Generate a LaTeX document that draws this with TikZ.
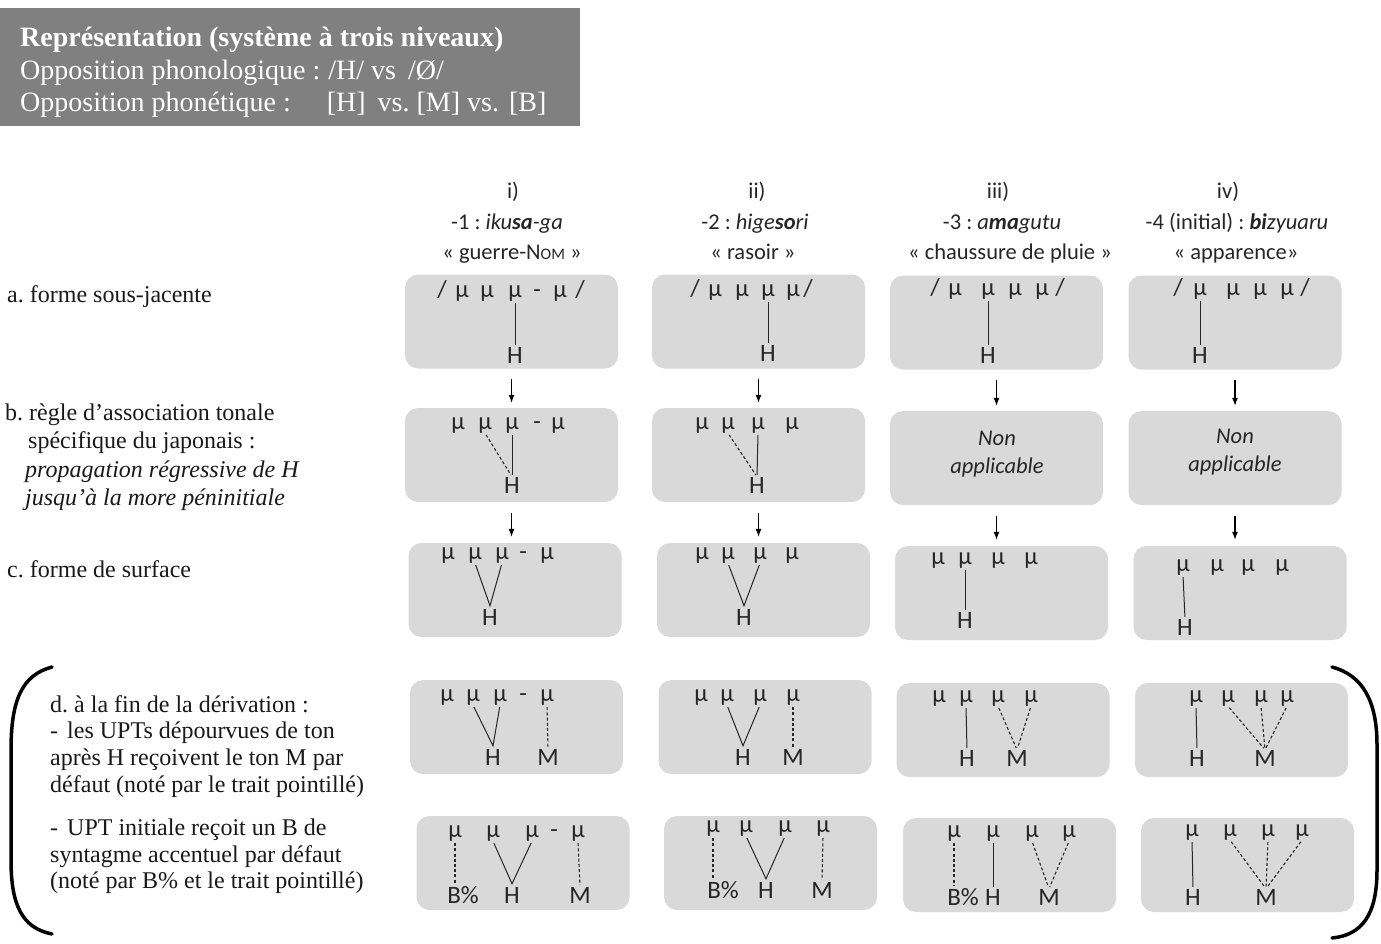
\documentclass[tikz,border=0pt]{standalone}
\usepackage{fontspec}
\setmainfont{Liberation Serif}
\newfontfamily\calfont{Carlito}
\usetikzlibrary{arrows.meta}
\definecolor{boxgray}{HTML}{D9D9D9}
\definecolor{headgray}{HTML}{808080}
\definecolor{ink}{HTML}{262626}
\frenchspacing
\tikzset{
  box/.style={rounded corners=13pt, fill=boxgray, minimum width=213pt, minimum height=94pt, inner sep=0pt},
  mu/.style={font=\calfont\fontsize{24.5}{24}\selectfont, inner sep=0pt, anchor=base, text=ink},
  tone/.style={font=\calfont\fontsize{25}{25}\selectfont, inner sep=0pt, anchor=base, text=ink},
  ln/.style={draw=ink, line width=1pt, shorten <=2pt, shorten >=2pt},
  dsh/.style={draw=ink, line width=1.1pt, dash pattern=on 3pt off 2.2pt, shorten <=2pt, shorten >=2pt},
  arr/.style={draw=black, line width=1.1pt, -{Latex[length=8pt,width=6pt]}},
  hdrtxt/.style={font=\fontsize{28}{32}\selectfont, text=white, inner sep=0pt, anchor=base west},
  lbl/.style={font=\fontsize{24}{27}\selectfont, inner sep=0pt, anchor=base west, text=black!90},
  colh/.style={font=\calfont\fontsize{22.5}{27}\selectfont, inner sep=0pt, anchor=base, text=ink},
  na/.style={font=\calfont\itshape\fontsize{22.5}{28}\selectfont, align=center, inner sep=0pt, text=ink},
}
\begin{document}
\begin{tikzpicture}[x=1pt,y=-1pt]
\useasboundingbox (0,0) rectangle (1381,943);

% header
\node[fill=headgray, minimum width=580pt, minimum height=118pt, anchor=north west, inner sep=0pt] (hdr) at (0,8) {};
\node[hdrtxt] (h1) at (20,46) {\textbf{Représentation (système à trois niveaux)}};
\node[hdrtxt] (h2) at (20,79) {Opposition phonologique :\hspace{8pt}/H/ vs\hspace{12pt}/Ø/};
\node[hdrtxt] (h3) at (20,111) {Opposition phonétique :\hspace{36pt}[H]\hspace{12pt}vs. [M] vs.\hspace{10pt}[B]};

% column headers
\node[colh] (c1a) at (513,198) {i)};
\node[colh] (c1b) at (507,229) {-1 : \textit{iku\textbf{sa}-ga}};
\node[colh] (c1c) at (512,259) {« guerre-N{\fontsize{16}{16}\selectfont OM} »};
\node[colh] (c2a) at (757,198) {ii)};
\node[colh] (c2b) at (755,229) {-2 : \textit{hige\textbf{so}ri}};
\node[colh] (c2c) at (753,259) {« rasoir »};
\node[colh] (c3a) at (998,198) {iii)};
\node[colh] (c3b) at (1002,229) {-3 : \textit{a\textbf{ma}gutu}};
\node[colh] (c3c) at (1010,259) {« chaussure de pluie »};
\node[colh] (c4a) at (1228,198) {iv)};
\node[colh] (c4b) at (1237,229) {-4 (initial) : \textit{\textbf{bi}zyuaru}};
\node[colh] (c4c) at (1236,259) {« apparence»};

% left labels
\node[lbl] (la) at (7,302) {a. forme sous-jacente};
\node[lbl] (lb1) at (5,420) {b. règle d’association tonale};
\node[lbl] (lb2) at (28,448) {spécifique du japonais :};
\node[lbl] (lb3) at (25,477) {\textit{propagation régressive de H}};
\node[lbl] (lb4) at (25,505) {\textit{jusqu’à la more péninitiale}};
\node[lbl] (lc) at (7,577) {c. forme de surface};
\node[lbl] (ld1) at (50,712) {d. à la fin de la dérivation :};
\node[lbl] (ld2) at (50,738) {-\hspace{9pt}les UPTs dépourvues de ton};
\node[lbl] (ld3) at (50,765) {après H reçoivent le ton M par};
\node[lbl] (ld4) at (50,792) {défaut (noté par le trait pointillé)};
\node[lbl] (ld5) at (50,835) {-\hspace{9pt}UPT initiale reçoit un B de};
\node[lbl] (ld6) at (50,862) {syntagme accentuel par défaut};
\node[lbl] (ld7) at (50,888) {(noté par B\% et le trait pointillé)};

% brackets
\draw[line width=3.5pt, line cap=round] (52,667) .. controls (22,675) and (11,700) .. (11,750) -- (11,860) .. controls (11,905) and (22,928) .. (52,934);
\draw[line width=3.5pt, line cap=round] (1332,667) .. controls (1362,675) and (1377,700) .. (1377,745) -- (1377,870) .. controls (1377,915) and (1362,935) .. (1332,938);

% boxes
\node[box] (A1) at (511.5,321.5) {};
\node[box] (A2) at (758.5,321.5) {};
\node[box] (A3) at (996.5,322.5) {};
\node[box] (A4) at (1235,322.5) {};
\node[box] (B1) at (511.5,455) {};
\node[box] (B2) at (758.5,455) {};
\node[box] (B3) at (996.5,458) {};
\node[box] (B4) at (1235,458) {};
\node[box] (C1) at (515,590) {};
\node[box] (C2) at (763.5,590) {};
\node[box] (C3) at (1001.5,593) {};
\node[box] (C4) at (1240,593) {};
\node[box] (D1) at (516.5,727) {};
\node[box] (D2) at (765,727) {};
\node[box] (D3) at (1003,730) {};
\node[box] (D4) at (1241.5,730) {};
\node[box] (E1) at (523,863) {};
\node[box] (E2) at (770.5,863) {};
\node[box] (E3) at (1009.5,865) {};
\node[box] (E4) at (1247.5,865) {};

% arrows
\foreach \c in {1,2,3,4}{
  \draw[arr, shorten <=10pt, shorten >=5pt] (A\c.south) -- (A\c.south |- B\c.north);
  \draw[arr, shorten <=11pt, shorten >=6pt] (B\c.south) -- (B\c.south |- C\c.north);
}

% ---------- row a ----------
\node[mu] (a1sl) at (442,297) {/};
\node[mu] (a1sr) at (580,297) {/};
\node[mu] (a1hy) at (537,297) {-};
\foreach \x [count=\i] in {462,487,515,560} \node[mu] (a1m\i) at (\x,297) {μ};
\node[tone] (a1H) at (515,363) {H};
\draw[ln] (a1m3.south) -- (a1H.north);

\node[mu] (a2sl) at (695,296) {/};
\node[mu] (a2sr) at (808,296) {/};
\foreach \x [count=\i] in {715,742,768,793} \node[mu] (a2m\i) at (\x,296) {μ};
\node[tone] (a2H) at (768,361) {H};
\draw[ln] (a2m3.south) -- (a2H.north);

\node[mu] (a3sl) at (935,295) {/};
\node[mu] (a3sr) at (1060,295) {/};
\foreach \x [count=\i] in {955,988,1015,1042} \node[mu] (a3m\i) at (\x,295) {μ};
\node[tone] (a3H) at (988,363) {H};
\draw[ln] (a3m2.south) -- (a3H.north);

\node[mu] (a4sl) at (1178,295) {/};
\node[mu] (a4sr) at (1305,295) {/};
\foreach \x [count=\i] in {1200,1233,1260,1287} \node[mu] (a4m\i) at (\x,295) {μ};
\node[tone] (a4H) at (1200,363) {H};
\draw[ln] (a4m1.south) -- (a4H.north);

% ---------- row b ----------
\foreach \x [count=\i] in {458,485,512,558} \node[mu] (b1m\i) at (\x,429) {μ};
\node[mu] (b1hy) at (537,429) {-};
\node[tone] (b1H) at (512,493) {H};
\draw[ln] (b1m3.south) -- (b1H.north);
\draw[dsh] (b1m2.south) -- (b1H.north);

\foreach \x [count=\i] in {702,728,758,792} \node[mu] (b2m\i) at (\x,429) {μ};
\node[tone] (b2H) at (757,493) {H};
\draw[ln] (b2m3.south) -- (b2H.north);
\draw[dsh] (b2m2.south) -- (b2H.north);

\node[na] (b3t) at (997,454) {Non\\applicable};
\node[na] (b4t) at (1235,452) {Non\\applicable};

% ---------- row c ----------
\foreach \x [count=\i] in {448,475,502,547} \node[mu] (c1m\i) at (\x,559) {μ};
\node[mu] (c1hy) at (523,559) {-};
\node[tone] (c1H) at (490,625) {H};
\draw[ln] (c1m2.south) -- ([yshift=3pt]c1H.north) -- (c1m3.south);

\foreach \x [count=\i] in {702,728,760,792} \node[mu] (c2m\i) at (\x,559) {μ};
\node[tone] (c2H) at (744,625) {H};
\draw[ln] (c2m2.south) -- ([yshift=3pt]c2H.north) -- (c2m3.south);

\foreach \x [count=\i] in {938,965,998,1031} \node[mu] (c3m\i) at (\x,564) {μ};
\node[tone] (c3H) at (965,628) {H};
\draw[ln] (c3m2.south) -- (c3H.north);

\foreach \x [count=\i] in {1183,1217,1248,1282} \node[mu] (c4m\i) at (\x,571) {μ};
\node[tone] (c4H) at (1185,635) {H};
\draw[ln] (c4m1.south) -- (c4H.north);

% ---------- row d1 ----------
\foreach \x [count=\i] in {447,473,500,547} \node[mu] (d1m\i) at (\x,701) {μ};
\node[mu] (d1hy) at (523,701) {-};
\node[tone] (d1H) at (493,765) {H};
\node[tone] (d1M) at (548,765) {M};
\draw[ln] (d1m2.south) -- ([yshift=3pt]d1H.north) -- (d1m3.south);
\draw[dsh] (d1m4.south) -- (d1M.north);

\foreach \x [count=\i] in {701,727,760,793} \node[mu] (d2m\i) at (\x,701) {μ};
\node[tone] (d2H) at (743,765) {H};
\node[tone] (d2M) at (793,765) {M};
\draw[ln] (d2m2.south) -- ([yshift=3pt]d2H.north) -- (d2m3.south);
\draw[dsh] (d2m4.south) -- (d2M.north);

\foreach \x [count=\i] in {939,966,998,1031} \node[mu] (d3m\i) at (\x,702) {μ};
\node[tone] (d3H) at (967,766) {H};
\node[tone] (d3M) at (1017,766) {M};
\draw[ln] (d3m2.south) -- (d3H.north);
\draw[dsh] (d3m3.south) -- (d3M.north);
\draw[dsh] (d3m4.south) -- (d3M.north);

\foreach \x [count=\i] in {1196,1228,1261,1287} \node[mu] (d4m\i) at (\x,702) {μ};
\node[tone] (d4H) at (1197,766) {H};
\node[tone] (d4M) at (1265,766) {M};
\draw[ln] (d4m1.south) -- (d4H.north);
\draw[dsh] (d4m2.south) -- (d4M.north);
\draw[dsh] (d4m3.south) -- (d4M.north);
\draw[dsh] (d4m4.south) -- (d4M.north);

% ---------- row d2 ----------
\foreach \x [count=\i] in {455,493,532,578} \node[mu] (e1m\i) at (\x,837) {μ};
\node[mu] (e1hy) at (554,837) {-};
\node[tone] (e1B) at (463,903) {B\%};
\node[tone] (e1H) at (512,903) {H};
\node[tone] (e1M) at (580,903) {M};
\draw[dsh] (e1m1.south) -- (e1m1.south |- e1B.north);
\draw[ln] (e1m2.south) -- ([yshift=3pt]e1H.north) -- (e1m3.south);
\draw[dsh] (e1m4.south) -- (e1M.north);

\foreach \x [count=\i] in {713,746,785,823} \node[mu] (e2m\i) at (\x,832) {μ};
\node[tone] (e2B) at (723,898) {B\%};
\node[tone] (e2H) at (766,898) {H};
\node[tone] (e2M) at (822,898) {M};
\draw[dsh] (e2m1.south) -- (e2m1.south |- e2B.north);
\draw[ln] (e2m2.south) -- ([yshift=3pt]e2H.north) -- (e2m3.south);
\draw[dsh] (e2m4.south) -- (e2M.north);

\foreach \x [count=\i] in {954,993,1032,1069} \node[mu] (e3m\i) at (\x,837) {μ};
\node[tone] (e3B) at (963,905) {B\%};
\node[tone] (e3H) at (993,905) {H};
\node[tone] (e3M) at (1049,905) {M};
\draw[dsh] (e3m1.south) -- (e3m1.south |- e3B.north);
\draw[ln] (e3m2.south) -- (e3H.north);
\draw[dsh] (e3m3.south) -- (e3M.north);
\draw[dsh] (e3m4.south) -- (e3M.north);

\foreach \x [count=\i] in {1192,1230,1268,1302} \node[mu] (e4m\i) at (\x,836) {μ};
\node[tone] (e4H) at (1193,905) {H};
\node[tone] (e4M) at (1266,905) {M};
\draw[ln] (e4m1.south) -- (e4H.north);
\draw[dsh] (e4m2.south) -- (e4M.north);
\draw[dsh] (e4m3.south) -- (e4M.north);
\draw[dsh] (e4m4.south) -- (e4M.north);
\end{tikzpicture}
\end{document}
